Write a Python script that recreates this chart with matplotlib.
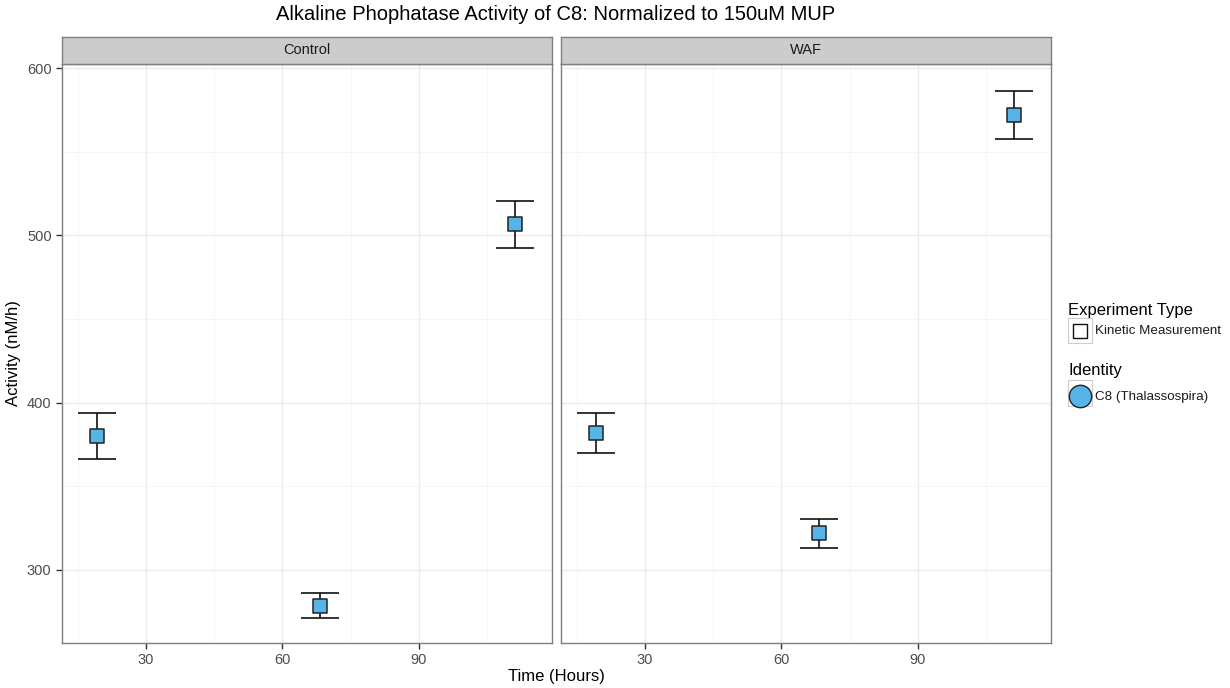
import matplotlib
matplotlib.use("Agg")
import matplotlib.pyplot as plt
from matplotlib.patches import Rectangle
import numpy as np

plt.rcParams['font.family'] = ['Liberation Sans', 'DejaVu Sans']

# ---- data ----
panels = ["Control", "WAF"]
time_h = [19.3, 68.2, 111.3]
control_act = [380.0, 278.5, 506.5]
control_err = [13.5, 7.5, 13.8]
waf_act = [382.0, 321.8, 571.8]
waf_err = [11.9, 8.5, 14.4]
x_ticks = [30, 60, 90]
y_ticks = [300, 400, 500, 600]
x_minor = [15, 45, 75, 105]
y_minor = [350, 450, 550]

title = "Alkaline Phophatase Activity of C8: Normalized to 150uM MUP"
xlabel = "Time (Hours)"
ylabel = "Activity (nM/h)"
legend1_title = "Experiment Type"
legend1_label = "Kinetic Measurement"
legend2_title = "Identity"
legend2_label = "C8 (Thalassospira)"

W, H = 1230, 688
fig = plt.figure(figsize=(W / 100, H / 100), dpi=100)

def fx(px):
    return px / W

def fy(py):
    return 1 - py / H

fill = "#56B4E9"
border = "#7F7F7F"
tickc = "#4D4D4D"

series = [(control_act, control_err), (waf_act, waf_err)]
lefts = [62, 561]
pw = 490
top, bottom = 64, 643
strip_top = 37

for i, (name, (vals, errs)) in enumerate(zip(panels, series)):
    ax = fig.add_axes([fx(lefts[i]), fy(bottom), pw / W, (bottom - top) / H])
    ax.set_xlim(11.5, 119.35)
    ax.set_ylim(256.3, 602.4)
    ax.set_xticks(x_ticks)
    ax.set_yticks(y_ticks)
    ax.set_xticks(x_minor, minor=True)
    ax.set_yticks(y_minor, minor=True)
    ax.grid(True, which='major', color='#EBEBEB', lw=1.0)
    ax.grid(True, which='minor', color='#F5F5F5', lw=0.6)
    ax.set_axisbelow(True)
    ax.tick_params(which='minor', length=0)
    ax.tick_params(which='major', length=4, color='#333333', labelsize=10.5,
                   labelcolor=tickc, width=1.0)
    for s in ax.spines.values():
        s.set_color(border)
        s.set_linewidth(1.0)
    if i > 0:
        ax.tick_params(axis='y', left=False, labelleft=False)
    ax.errorbar(time_h, vals, yerr=errs, fmt='none', ecolor='#111111',
                elinewidth=1.2, capsize=13.5, capthick=1.2, zorder=3)
    ax.scatter(time_h, vals, marker='s', s=95, facecolor=fill,
               edgecolor='#222222', linewidth=1.1, zorder=4)
    if i == 0:
        ax.set_ylabel(ylabel, fontsize=12, color='black', labelpad=4)
    # strip
    sax = fig.add_axes([fx(lefts[i]), fy(top), pw / W, (top - strip_top) / H])
    sax.set_xticks([]); sax.set_yticks([])
    sax.set_facecolor('#CCCCCC')
    for s in sax.spines.values():
        s.set_color(border)
        s.set_linewidth(1.0)
    sax.text(0.5, 0.5, name, ha='center', va='center', fontsize=10.5,
             color='#1A1A1A', transform=sax.transAxes)

fig.text(fx(556), fy(15), title, ha='center', va='center', fontsize=14.5, color='black')
fig.text(fx(556), fy(677), xlabel, ha='center', va='center', fontsize=12, color='black')

# legend (manual)
lax = fig.add_axes([0, 0, 1, 1])
lax.set_xlim(0, W)
lax.set_ylim(H, 0)
lax.axis('off')
lax.text(1068, 310, legend1_title, ha='left', va='center', fontsize=12, color='black')
lax.add_patch(Rectangle((1068, 318), 24, 25, facecolor='white', edgecolor='#CCCCCC', lw=0.8))
lax.scatter([1080], [330.5], marker='s', s=90, facecolor='white', edgecolor='#111111', linewidth=1.0)
lax.text(1095, 331, legend1_label, ha='left', va='center', fontsize=9.6, color='#1A1A1A')
lax.text(1068, 370, legend2_title, ha='left', va='center', fontsize=12, color='black')
lax.add_patch(Rectangle((1068, 380), 24, 26, facecolor='white', edgecolor='#CCCCCC', lw=0.8))
lax.scatter([1080], [396], marker='o', s=260, facecolor=fill, edgecolor='#222222', linewidth=1.0)
lax.text(1095, 397, legend2_label, ha='left', va='center', fontsize=9.6, color='#1A1A1A')

fig.savefig("out.png", dpi=100)
